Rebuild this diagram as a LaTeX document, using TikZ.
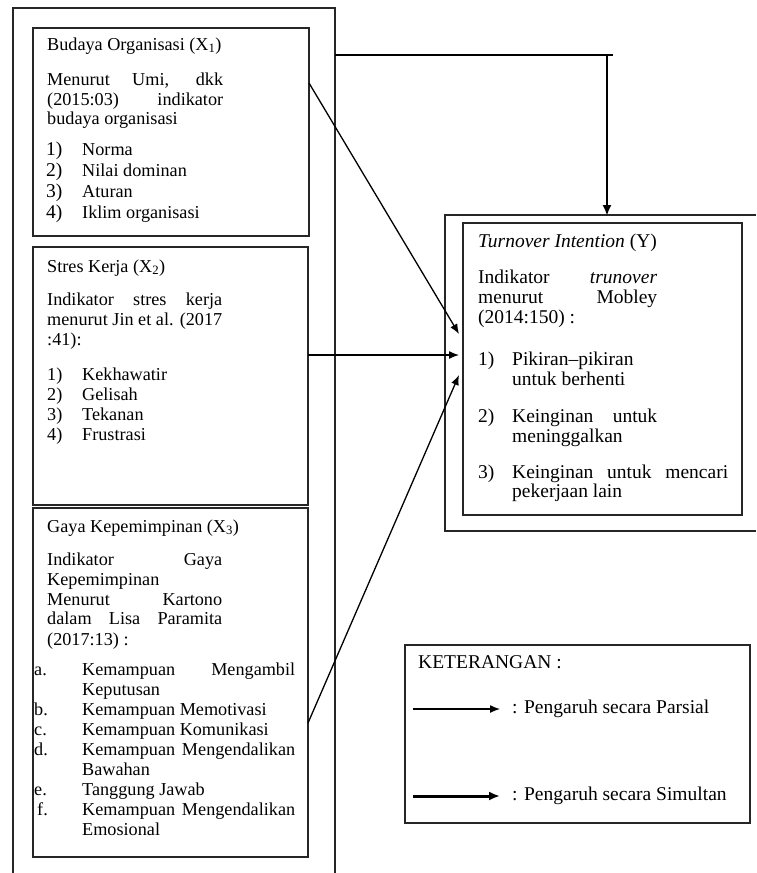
\documentclass[tikz,border=0pt]{standalone}
\usepackage{fontspec}
\setmainfont{Liberation Serif}
\usetikzlibrary{arrows.meta}
\begin{document}
\begin{tikzpicture}[x=1pt,y=-1pt,
  frame/.style={draw=black!85, line width=1.1pt},
  box/.style={draw=black!85, line width=1.1pt, rectangle, inner sep=0pt},
  txt/.style={anchor=base west, inner sep=0pt, font=\fontsize{18.2}{20}\selectfont},
  rtxt/.style={anchor=base west, inner sep=0pt, font=\fontsize{19.5}{20}\selectfont},
  partial/.style={line width=1.3pt, -{Latex[length=10pt,width=8pt]}},
  simul/.style={line width=3pt, -{Latex[length=11pt,width=9pt]}}]
\useasboundingbox (0,0) rectangle (756,873);

% outer frames (open at the image edges)
\draw[frame] (13,873) -- (13,8) -- (335,8) -- (335,873);
\draw[frame] (756,215) -- (445,215) -- (445,531) -- (756,531);

% boxes
\node[box, minimum width=276pt, minimum height=208pt] (b1) at (171,132) {};
\node[box, minimum width=275pt, minimum height=258pt] (b2) at (170.5,376) {};
\node[box, minimum width=275pt, minimum height=349pt] (b3) at (170.5,682.5) {};
\node[box, minimum width=279pt, minimum height=292pt] (by) at (602.5,369) {};
\node[box, minimum width=345pt, minimum height=178pt] (leg) at (577.5,734) {};

% box 1
\node[txt] (t1a) at (47,50) {Budaya Organisasi (X\textsubscript{1})};
\node[txt] (t1b) at (47,85) {\makebox[176pt][s]{Menurut Umi, dkk}};
\node[txt] (t1c) at (47,105) {\makebox[176pt][s]{(2015:03) indikator}};
\node[txt] (t1d) at (47,124) {budaya organisasi};
\node[rtxt] (n11) at (46,155) {1)};
\node[txt] (i11) at (82,155) {Norma};
\node[rtxt] (n12) at (46,176) {2)};
\node[txt] (i12) at (82,176) {Nilai dominan};
\node[rtxt] (n13) at (46,197) {3)};
\node[txt] (i13) at (82,197) {Aturan};
\node[rtxt] (n14) at (46,218) {4)};
\node[txt] (i14) at (82,218) {Iklim organisasi};

% box 2
\node[txt] (t2a) at (47,272) {Stres Kerja (X\textsubscript{2})};
\node[txt] (t2b) at (47,305) {\makebox[175pt][s]{Indikator stres kerja}};
\node[txt] (t2c) at (47,325) {\makebox[175pt][s]{menurut Jin et al. (2017}};
\node[txt] (t2d) at (47,345) {:41):};
\node[txt] (n21) at (47,380) {1)};
\node[txt] (i21) at (82,380) {Kekhawatir};
\node[txt] (n22) at (47,400) {2)};
\node[txt] (i22) at (82,400) {Gelisah};
\node[txt] (n23) at (47,420) {3)};
\node[txt] (i23) at (82,420) {Tekanan};
\node[txt] (n24) at (47,440) {4)};
\node[txt] (i24) at (82,440) {Frustrasi};

% box 3
\node[txt] (t3a) at (47,532) {Gaya Kepemimpinan (X\textsubscript{3})};
\node[txt] (t3b) at (47,565) {\makebox[175pt][s]{Indikator Gaya}};
\node[txt] (t3c) at (47,585) {Kepemimpinan};
\node[txt] (t3d) at (47,605) {\makebox[175pt][s]{Menurut Kartono}};
\node[txt] (t3e) at (47,624) {\makebox[175pt][s]{dalam Lisa Paramita}};
\node[txt] (t3f) at (47,645) {(2017:13) :};
\node[txt] (n31) at (34,675) {a.};
\node[txt] (i31) at (82,675) {\makebox[213pt][s]{Kemampuan Mengambil}};
\node[txt] (i31b) at (82,695) {Keputusan};
\node[txt] (n32) at (34,715) {b.};
\node[txt] (i32) at (82,715) {Kemampuan Memotivasi};
\node[txt] (n33) at (34,735) {c.};
\node[txt] (i33) at (82,735) {Kemampuan Komunikasi};
\node[txt] (n34) at (34,755) {d.};
\node[txt] (i34) at (82,755) {\makebox[213pt][s]{Kemampuan Mengendalikan}};
\node[txt] (i34b) at (82,775) {Bawahan};
\node[txt] (n35) at (34,795) {e.};
\node[txt] (i35) at (82,795) {Tanggung Jawab};
\node[txt] (n36) at (37,815) {f.};
\node[txt] (i36) at (82,815) {\makebox[213pt][s]{Kemampuan Mengendalikan}};
\node[txt] (i36b) at (82,835) {Emosional};

% right box
\node[rtxt] (ya) at (478,247) {\textit{Turnover Intention} (Y)};
\node[rtxt] (yb) at (478,283) {\makebox[179pt][s]{Indikator \textit{trunover}}};
\node[rtxt] (yc) at (478,303) {\makebox[179pt][s]{menurut Mobley}};
\node[rtxt] (yd) at (478,323) {(2014:150) :};
\node[rtxt] (ny1) at (478,365) {1)};
\node[rtxt] (iy1) at (512,365) {Pikiran–pikiran};
\node[rtxt] (iy1b) at (512,385) {untuk berhenti};
\node[rtxt] (ny2) at (478,422) {2)};
\node[rtxt] (iy2) at (512,422) {\makebox[145pt][s]{Keinginan untuk}};
\node[rtxt] (iy2b) at (512,442) {meninggalkan};
\node[rtxt] (ny3) at (478,478) {3)};
\node[rtxt] (iy3) at (512,478) {\makebox[216pt][s]{Keinginan untuk mencari}};
\node[rtxt] (iy3b) at (512,497) {pekerjaan lain};

% legend
\node[rtxt] (lk) at (418,668) {KETERANGAN :};
\node[rtxt] (lp) at (512,713) {: Pengaruh secara Parsial};
\node[rtxt] (ls) at (512,800) {: Pengaruh secara Simultan};
\coordinate (lp0) at (413,709);
\coordinate (lp1) at (500,709);
\coordinate (ls0) at (413,796);
\coordinate (ls1) at (500,796);
\draw[partial] (lp0) -- (lp1);
\draw[simul] (ls0) -- (ls1);

% partial arrows
\coordinate (s1) at (309,83);
\coordinate (e1) at (459,334);
\coordinate (s2) at (308,355);
\coordinate (e2) at (459,355);
\coordinate (s3) at (308,723);
\coordinate (e3) at (459,375);
\draw[partial] (s1) -- (e1);
\draw[partial] (s2) -- (e2);
\draw[partial] (s3) -- (e3);

% simultaneous arrow
\coordinate (sa) at (335,55);
\coordinate (sb) at (613,55);
\coordinate (sc) at (607,55);
\coordinate (sd) at (607,216);
\draw[line width=2.6pt] (sa) -- (sb);
\draw[simul, line width=2.6pt] (sc) -- (sd);
\end{tikzpicture}
\end{document}
